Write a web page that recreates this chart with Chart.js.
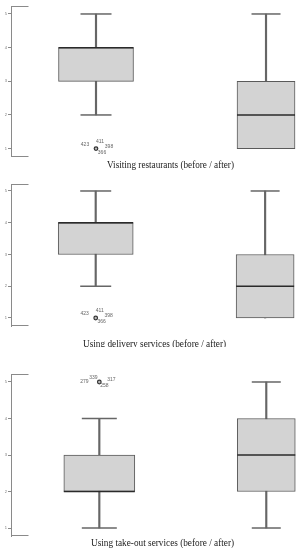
<!DOCTYPE html>
<html>
<head>
<meta charset="utf-8">
<title>Before / after box plots</title>
<script src="https://cdn.jsdelivr.net/npm/chart.js@4.4.1/dist/chart.umd.min.js"></script>
<style>
  html, body { margin: 0; padding: 0; background: #fff; overflow: hidden; }
  #page { position: relative; width: 299px; height: 550px; }
  .panel { position: absolute; left: 0; }
  .capbox { position: absolute; overflow: hidden; }
  .caption {
    display: inline-block; white-space: nowrap;
    font-family: "Liberation Serif", "Times New Roman", serif;
    font-size: 11px; line-height: 14px; color: #222;
    transform-origin: 0 0;
  }
</style>
</head>
<body>
<div id="page"></div>
<script>
// --- data ---
const captions = [
  'Visiting restaurants (before / after)',
  'Using delivery services (before / after)',
  'Using take-out services (before / after)'
];
const groups = ['before', 'after'];
// [min, q1, median, q3, max] for each panel
const beforeStats = [[2, 3, 4, 4, 5], [2, 3, 4, 4, 5], [1, 2, 2, 3, 4]];
const afterStats  = [[1, 1, 2, 3, 5], [1, 1, 2, 3, 5], [1, 2, 3, 4, 5]];
// outliers of the "before" group
const outlierValues = [1, 1, 5];
const outlierIds = [
  ['423', '411', '398', '366'],
  ['423', '411', '398', '366'],
  ['279', '339', '317', '258']
];
const yTicks = [1, 2, 3, 4, 5];

// --- layout of each panel (pixels) ---
const panelLayout = [
  { top: 0, height: 160, padTop: 6, padBottom: 3, yMin: 0.763, yMax: 5.237,
    xMin: -0.5, xMax: 1.194, boxWidth: [75, 58], capWidth: [31, 29],
    cap: { left: 107, width: 127, top: 154, height: 16 },
    labelOffsets: [[-11, -4], [4, -7], [13, -2], [6, 4]] },
  { top: 180, height: 150, padTop: 4, padBottom: 4, yMin: 0.748, yMax: 5.22,
    xMin: -0.5, xMax: 1.2, boxWidth: [75, 58], capWidth: [31, 29],
    cap: { left: 83, width: 143, top: 333, height: 14 },
    labelOffsets: [[-11, -4], [4, -7], [13, -2], [6, 4]] },
  { top: 370, height: 170, padTop: 4, padBottom: 4, yMin: 0.781, yMax: 5.219,
    xMin: -0.529, xMax: 1.196, boxWidth: [71, 58], capWidth: [35, 29],
    cap: { left: 91, width: 143, top: 532, height: 16 },
    labelOffsets: [[-15, 0], [-6, -4], [12, -2], [5, 4]] }
];

const axisGrey = '#8a8a8a';

// bracket ends of the y axis + ids next to outliers
const decorPlugin = {
  id: 'decor',
  afterDraw(chart) {
    const { ctx, chartArea } = chart;
    const p = chart.options.plugins.decor;
    ctx.save();
    ctx.strokeStyle = axisGrey;
    ctx.lineWidth = 1;
    ctx.beginPath();
    const x0 = Math.round(chartArea.left) + 0.5;
    ctx.moveTo(x0, Math.round(chartArea.top) + 0.5);
    ctx.lineTo(x0 + 17, Math.round(chartArea.top) + 0.5);
    ctx.moveTo(x0, Math.round(chartArea.bottom) - 0.5);
    ctx.lineTo(x0 + 17, Math.round(chartArea.bottom) - 0.5);
    ctx.stroke();

    const meta = chart.getDatasetMeta(p.outlierDataset);
    ctx.fillStyle = '#666';
    ctx.font = '5px "Liberation Sans", Arial, sans-serif';
    ctx.textAlign = 'center';
    ctx.textBaseline = 'middle';
    meta.data.forEach(pt => {
      p.ids.forEach((id, k) => {
        const off = p.offsets[k] || [0, 0];
        ctx.fillText(id, pt.x + off[0], pt.y + off[1]);
      });
    });
    ctx.restore();
  }
};

const page = document.getElementById('page');

panelLayout.forEach((lay, i) => {
  const stats = [beforeStats[i], afterStats[i]];

  const div = document.createElement('div');
  div.className = 'panel';
  div.style.top = lay.top + 'px';
  const canvas = document.createElement('canvas');
  canvas.width = 299;
  canvas.height = lay.height;
  div.appendChild(canvas);
  page.appendChild(div);

  const whiskerData = stats.map((s, g) => ({ x: g, y: [s[0], s[4]] }));
  const caps = [];
  const capRadius = [];
  stats.forEach((s, g) => {
    if (s[0] < s[1]) { caps.push({ x: g, y: s[0] }); capRadius.push(lay.capWidth[g] / 2); }
    if (s[4] > s[3]) { caps.push({ x: g, y: s[4] }); capRadius.push(lay.capWidth[g] / 2); }
  });

  const boxSets = groups.map((name, g) => ({
    type: 'bar',
    label: name,
    data: [{ x: g, y: [stats[g][1], stats[g][3]] }],
    backgroundColor: '#d3d3d3',
    borderColor: '#5a5a5a',
    borderWidth: 1,
    borderSkipped: false,
    barThickness: lay.boxWidth[g],
    grouped: false,
    order: 4
  }));

  const datasets = [
    {
      type: 'scatter',
      label: 'outliers',
      data: [{ x: 0, y: outlierValues[i] }],
      pointStyle: 'circle',
      pointRadius: 1.8,
      pointBorderWidth: 1.2,
      pointBorderColor: '#333',
      pointBackgroundColor: '#bbb',
      clip: false,
      order: 1
    },
    {
      type: 'scatter',
      label: 'median',
      data: stats.map((s, g) => ({ x: g, y: s[2] })),
      pointStyle: 'line',
      pointRadius: lay.boxWidth.map(w => w / 2),
      pointBorderWidth: 1.5,
      pointBorderColor: '#2a2a2a',
      clip: false,
      order: 2
    },
    {
      type: 'scatter',
      label: 'caps',
      data: caps,
      pointStyle: 'line',
      pointRadius: capRadius,
      pointBorderWidth: 1.5,
      pointBorderColor: '#666',
      clip: false,
      order: 3
    },
    ...boxSets,
    {
      type: 'bar',
      label: 'whiskers',
      data: whiskerData,
      backgroundColor: '#666',
      borderWidth: 0,
      barThickness: 1.5,
      grouped: false,
      order: 5
    }
  ];

  new Chart(canvas, {
    type: 'bar',
    data: { datasets },
    options: {
      responsive: false,
      animation: false,
      events: [],
      layout: { autoPadding: false, padding: { top: lay.padTop, bottom: lay.padBottom, left: 0, right: 0 } },
      plugins: {
        legend: { display: false },
        tooltip: { enabled: false },
        decor: { outlierDataset: 0, ids: outlierIds[i], offsets: lay.labelOffsets }
      },
      scales: {
        x: { type: 'linear', min: lay.xMin, max: lay.xMax, offset: false, display: false },
        y: {
          min: lay.yMin,
          max: lay.yMax,
          afterBuildTicks: s => { s.ticks = yTicks.map(v => ({ value: v })); },
          afterFit: s => { s.width = 11; },
          grid: { display: true, drawOnChartArea: false, drawTicks: true, tickLength: 3, color: axisGrey, lineWidth: 1 },
          border: { display: true, color: axisGrey, width: 1 },
          ticks: { font: { size: 4, family: 'Arial' }, color: '#777', padding: 1 }
        }
      }
    },
    plugins: [decorPlugin]
  });

  // caption under the panel
  const box = document.createElement('div');
  box.className = 'capbox';
  box.style.left = lay.cap.left + 'px';
  box.style.top = lay.cap.top + 'px';
  box.style.height = lay.cap.height + 'px';
  box.style.width = (299 - lay.cap.left) + 'px';
  const span = document.createElement('span');
  span.className = 'caption';
  span.textContent = captions[i];
  box.appendChild(span);
  page.appendChild(box);
  const w = span.getBoundingClientRect().width;
  span.style.transform = 'scaleX(' + (lay.cap.width / w).toFixed(3) + ')';
});
</script>
</body>
</html>
